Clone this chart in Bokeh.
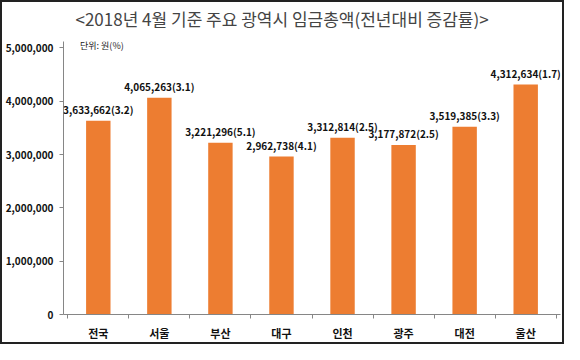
from bokeh.plotting import figure
from bokeh.models import ColumnDataSource, FixedTicker, NumeralTickFormatter, Label, LabelSet, Range1d, Title
from bokeh.core.properties import value
from bokeh.embed import file_html
from bokeh.resources import INLINE

regions = ["전국", "서울", "부산", "대구", "인천", "광주", "대전", "울산"]
wages = [3633662, 4065263, 3221296, 2962738, 3312814, 3177872, 3519385, 4312634]
growth = [3.2, 3.1, 5.1, 4.1, 2.5, 2.5, 3.3, 1.7]
y_ticks = [0, 1000000, 2000000, 3000000, 4000000, 5000000]

FONT = "Noto Sans CJK KR"
x = [i + 0.5 for i in range(len(regions))]
labels = [f"{w:,}({g})" for w, g in zip(wages, growth)]
src = ColumnDataSource(dict(x=x, top=wages, label=labels))

p = figure(width=564, height=344, output_backend="svg", toolbar_location=None,
           x_range=Range1d(-0.07, len(regions) + 0.07), y_range=Range1d(0, 5120000),
           min_border_left=56, min_border_right=6, min_border_top=39, min_border_bottom=32)
p.styles = {"border": "2px solid #222", "box-sizing": "border-box"}

p.title.text = "<2018년 4월 기준 주요 광역시 임금총액(전년대비 증감률)>"
p.title.text_font = FONT
p.title.text_font_size = "17px"
p.title.text_font_style = "normal"
p.title.align = "left"
p.title.offset = 12
p.title.standoff = 0

# empty spacer between title and plot area
p.add_layout(Title(text=" ", text_font_size="8px", standoff=0), "above")

p.vbar(x="x", top="top", width=0.4, bottom=0, source=src,
       fill_color="#ED7D31", line_color=None)
p.add_layout(LabelSet(x="x", y="top", text="label", source=src, text_align="center",
                      text_baseline="bottom", y_offset=4, text_font=value(FONT),
                      text_font_size="10px", text_font_style="bold", text_color="#111"))

p.grid.visible = False
p.outline_line_color = None

yax = p.yaxis[0]
yax.ticker = FixedTicker(ticks=y_ticks)
yax.formatter = NumeralTickFormatter(format="0,0")
yax.major_label_text_font = FONT
yax.major_label_text_font_size = "10px"
yax.major_label_text_font_style = "bold"
yax.major_label_text_color = "#111"
yax.axis_line_color = "#868686"
yax.major_tick_line_color = "#868686"
yax.major_tick_out = 4
yax.major_tick_in = 0
yax.minor_tick_line_color = None
yax.major_label_standoff = 6

xax = p.xaxis[0]
xax.ticker = FixedTicker(ticks=x, minor_ticks=list(range(len(regions) + 1)))
xax.major_label_overrides = {xi: r for xi, r in zip(x, regions)}
xax.major_label_text_font = FONT
xax.major_label_text_font_size = "11px"
xax.major_label_text_font_style = "bold"
xax.major_label_text_color = "#111"
xax.axis_line_color = "#868686"
xax.major_tick_line_color = None
xax.minor_tick_line_color = "#868686"
xax.minor_tick_out = 4
xax.minor_tick_in = 0
xax.major_label_standoff = 4

p.add_layout(Label(x=0.2, y=5045000, text="단위: 원(%)", text_font=FONT,
                   text_font_size="9px", text_baseline="middle", text_color="#222"))

open("out.html", "w").write(file_html(p, INLINE))
